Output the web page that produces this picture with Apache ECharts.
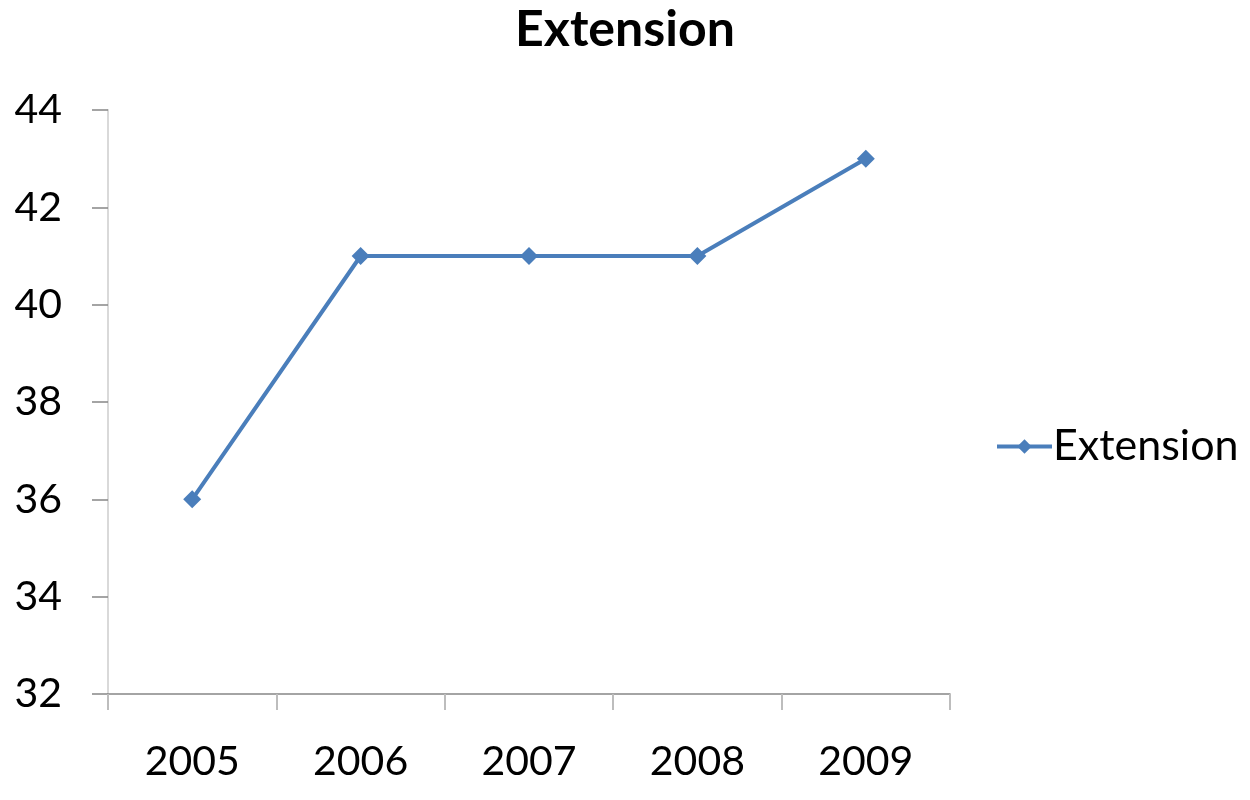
<!DOCTYPE html>
<html><head><meta charset="utf-8">
<script src="https://cdn.jsdelivr.net/npm/echarts@6/dist/echarts.min.js"></script>
<style>html,body{margin:0;padding:0;background:#fff}#c{width:1250px;height:800px}</style>
</head><body><div id="c"></div>
<script>
const categories = ['2005','2006','2007','2008','2009'];
const extensionValues = [36, 41, 41, 41, 43];
const seriesName = 'Extension';
const titleText = 'Extension';

const chart = echarts.init(document.getElementById('c'));
const font = 'Lato, "Open Sans", sans-serif';
chart.setOption({
  animation: false,
  backgroundColor: '#fff',
  title: { text: titleText, left: 'center', top: 0, textStyle: { fontFamily: font, fontSize: 50, fontWeight: 'bold', color: '#000' } },
  legend: { data: [seriesName], left: 990, top: 420, itemWidth: 55, itemHeight: 18, itemGap: 4,
    lineStyle: { width: 4 },
    textStyle: { fontFamily: font, fontSize: 43, color: '#000', padding: [0,0,0,-4] } },
  grid: { left: 108, right: 300, top: 110, bottom: 106 },
  xAxis: { type: 'category', data: categories, boundaryGap: true,
    axisLine: { lineStyle: { color: '#868686', width: 1.5 } },
    axisTick: { show: true, alignWithLabel: false, length: 16, lineStyle: { color: '#bdbdbd', width: 2 } },
    axisLabel: { fontFamily: font, fontSize: 41, color: '#000', margin: 47 } },
  yAxis: { type: 'value', min: 32, max: 44, interval: 2,
    axisLine: { show: true, lineStyle: { color: '#d9d9d9', width: 2 } },
    axisTick: { show: true, length: 16, lineStyle: { color: '#868686', width: 1.5 } },
    splitLine: { show: false },
    axisLabel: { fontFamily: font, fontSize: 41, color: '#000', margin: 46 } },
  series: [{ name: seriesName, type: 'line', data: extensionValues, symbol: 'diamond', symbolSize: 18,
    lineStyle: { color: '#4a7ebb', width: 4 }, itemStyle: { color: '#4a7ebb' } }]
});
</script></body></html>
